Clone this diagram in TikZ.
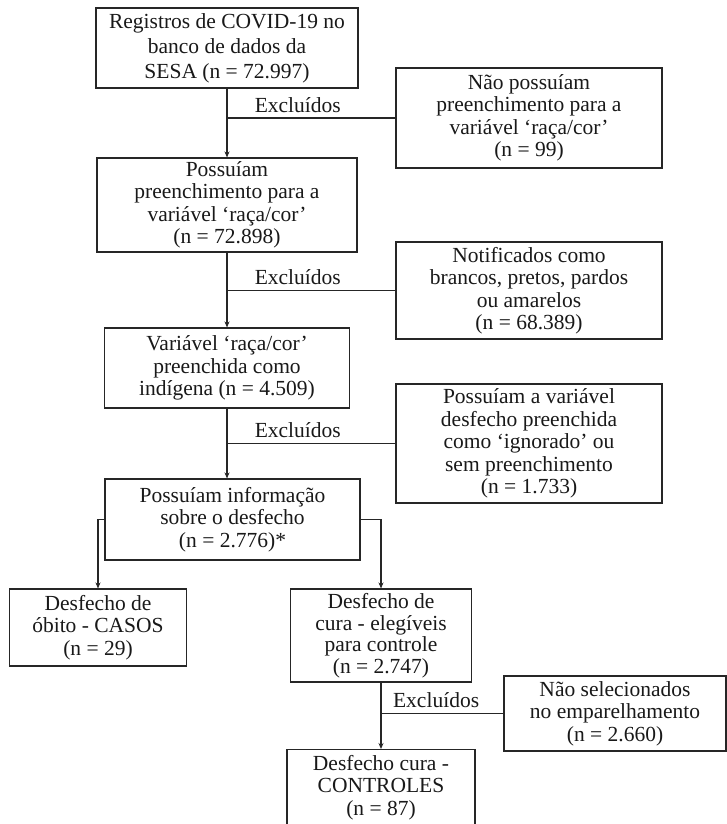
\documentclass[tikz,border=0pt]{standalone}
\usepackage{fontspec}
\setmainfont{Liberation Serif}
\usetikzlibrary{arrows.meta}
\begin{document}
\begin{tikzpicture}[x=1pt,y=-1pt,
  box/.style={draw=black!85, line width=1.1pt, inner sep=0pt, align=center,
    text=black!90, font=\fontsize{21.5}{22.5}\selectfont},
  excl/.style={inner sep=0pt, anchor=south, yshift=5pt, text=black!90,
    font=\fontsize{21.5}{22.5}\selectfont},
  conn/.style={draw=black!85, line width=1.1pt},
  arr/.style={conn, -{Stealth[length=6pt,width=5pt]}}]
\clip (0,0) rectangle (727,824);
\fill[white] (0,0) rectangle (727,824);

% main column
\node[box, minimum width=262pt, minimum height=80pt,
  font=\fontsize{21.5}{25}\selectfont] (b1) at (227,48)
  {Registros de COVID-19 no\\banco de dados da\\SESA (n = 72.997)};
\node[box, minimum width=260pt, minimum height=94pt] (b2) at (227,205)
  {Possuíam\\preenchimento para a\\variável ‘raça/cor’\\(n = 72.898)};
\node[box, minimum width=245pt, minimum height=80pt] (b3) at (227,368)
  {Variável ‘raça/cor’\\preenchida como\\indígena (n = 4.509)};
\node[box, minimum width=255pt, minimum height=81pt] (b4) at (232.5,519.5)
  {Possuíam informação\\sobre o desfecho\\(n = 2.776)*};

% exclusion boxes
\node[box, minimum width=266pt, minimum height=100pt] (n1) at (529,118)
  {Não possuíam\\preenchimento para a\\variável ‘raça/cor’\\(n = 99)};
\node[box, minimum width=266pt, minimum height=97pt] (n2) at (529,290.5)
  {Notificados como\\brancos, pretos, pardos\\ou amarelos\\(n = 68.389)};
\node[box, minimum width=266pt, minimum height=119pt] (n3) at (529,443.5)
  {Possuíam a variável\\desfecho preenchida\\como ‘ignorado’ ou\\sem preenchimento\\(n = 1.733)};

% outcome boxes
\node[box, minimum width=177pt, minimum height=77pt] (ob) at (98,627.5)
  {Desfecho de\\óbito - CASOS\\(n = 29)};
\node[box, minimum width=181pt, minimum height=93pt,
  font=\fontsize{21.5}{21.5}\selectfont] (cura) at (381,635.5)
  {Desfecho de\\cura - elegíveis\\para controle\\(n = 2.747)};
\node[box, minimum width=222pt, minimum height=75pt] (ns) at (615,713.5)
  {Não selecionados\\no emparelhamento\\(n = 2.660)};
\node[box, anchor=north, minimum width=188pt, minimum height=76pt] (ctrl) at (381,749)
  {Desfecho cura -\\CONTROLES\\(n = 87)};

% connectors
\draw[arr] (b1.south) -- (b2.north);
\draw[conn] (b1.south |- n1.west) -- node[excl, pos=0.42] {Excluídos} (n1.west);
\draw[arr] (b2.south) -- (b3.north);
\draw[conn] (b2.south |- n2.west) -- node[excl, pos=0.42] {Excluídos} (n2.west);
\draw[arr] (b3.south) -- (b3.south |- b4.north);
\draw[conn] (b3.south |- n3.west) -- node[excl, pos=0.42] {Excluídos} (n3.west);
\draw[arr] (b4.west) -- (ob.north |- b4.west) -- (ob.north);
\draw[arr] (b4.east) -- (cura.north |- b4.east) -- (cura.north);
\draw[arr] (cura.south) -- (ctrl.north);
\draw[conn] (cura.south |- ns.west) -- node[excl, pos=0.45] {Excluídos} (ns.west);
\end{tikzpicture}
\end{document}
